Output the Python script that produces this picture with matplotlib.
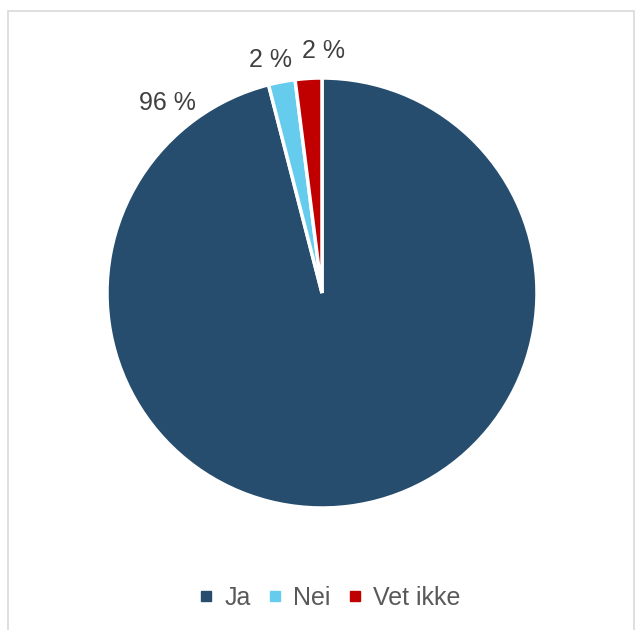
import matplotlib.pyplot as plt
from matplotlib.lines import Line2D
from matplotlib.patches import Rectangle

plt.rcParams['font.family'] = ['Liberation Sans', 'DejaVu Sans']

categories = ["Ja", "Nei", "Vet ikke"]
values = [96, 2, 2]
colors = ["#264D6E", "#66CCEE", "#C00000"]
# label spots (in pie radii) picked to match the reference layout
label_pos = [(-0.72, 0.885), (-0.24, 1.085), (0.005, 1.125)]

fig = plt.figure(figsize=(6.35, 6.3), dpi=100)
fig.patches.append(Rectangle((8 / 635, -0.01), 626 / 635, 1 - 11 / 630 + 0.01,
                             transform=fig.transFigure, fill=False,
                             edgecolor="#d9d9d9", linewidth=1.2))

ax = fig.add_axes([107 / 635, 122 / 630, 430 / 635, 430 / 630])
ax.pie(values, colors=colors, startangle=90, counterclock=False, radius=1,
       wedgeprops=dict(edgecolor="white", linewidth=2.5))
ax.set_xlim(-1, 1)
ax.set_ylim(-1, 1)
ax.axis("off")

for v, (x, y) in zip(values, label_pos):
    ax.text(x, y, f"{v} %", ha="center", va="center", fontsize=18,
            color="#404040", clip_on=False)

handles = [Line2D([], [], marker="s", linestyle="none", markersize=7,
                  markerfacecolor=c, markeredgecolor=c) for c in colors]
fig.legend(handles, categories, loc="center", bbox_to_anchor=(0.515, 1 - 598 / 630),
           ncol=3, frameon=False, fontsize=18, labelcolor="#595959",
           handletextpad=0.25, columnspacing=0.45, handlelength=1.0)

fig.savefig("out.png", dpi=100)
